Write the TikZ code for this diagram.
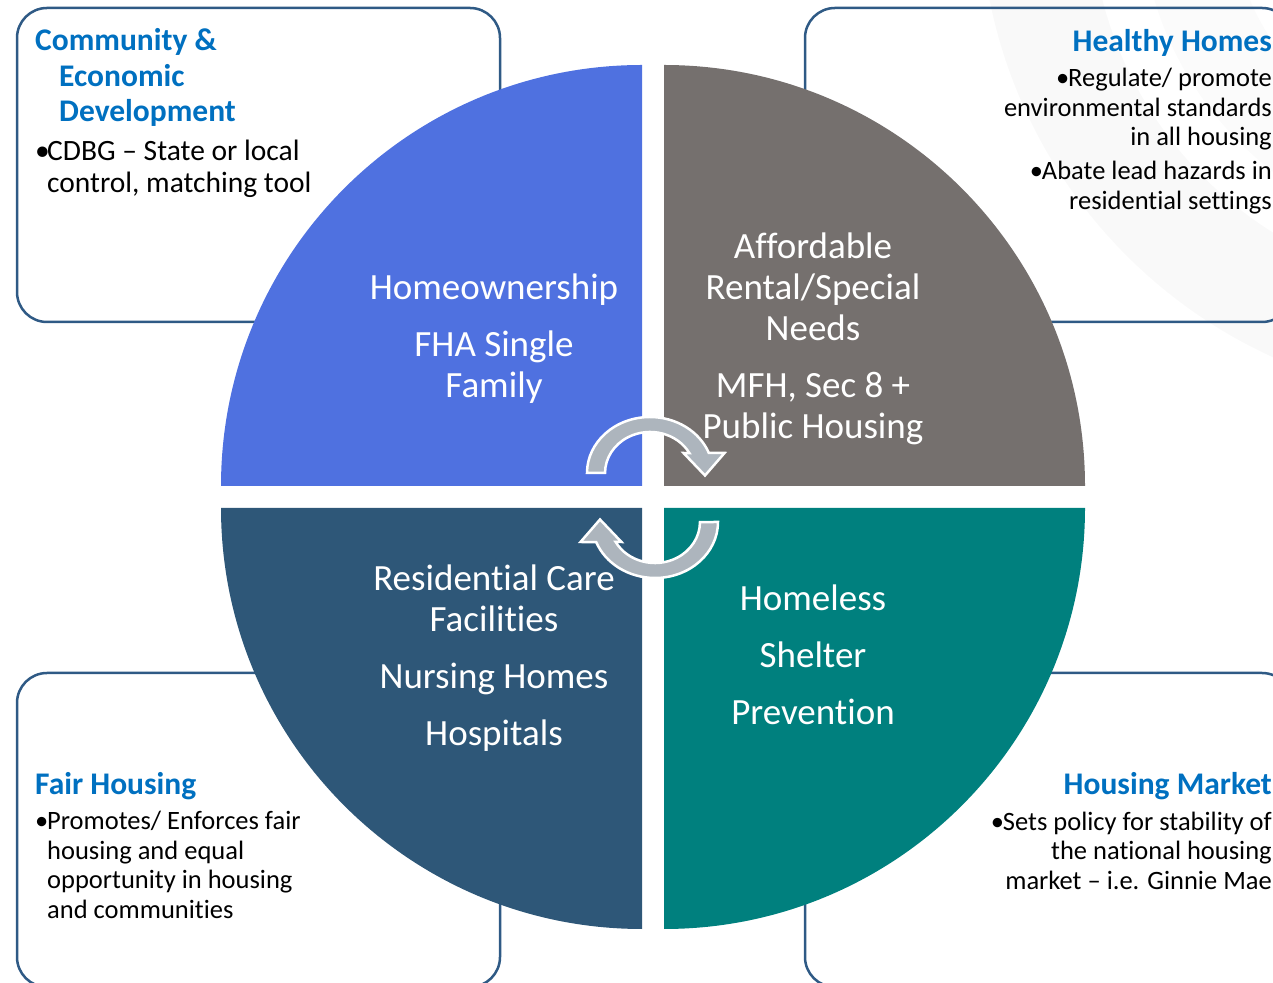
\documentclass[tikz,border=0pt]{standalone}
\usepackage{fontspec}
\setmainfont{Carlito}[Ligatures={TeX,NoCommon}]
\usepackage{tikz}
\usetikzlibrary{positioning,calc}
\usepackage{xcolor}
\definecolor{homeBlue}{HTML}{4F71E0}
\definecolor{rentGray}{HTML}{75706E}
\definecolor{careNavy}{HTML}{2E5778}
\definecolor{shelterTeal}{HTML}{00807E}
\definecolor{titleBlue}{HTML}{0070C0}
\definecolor{frameBlue}{HTML}{2F5A85}
\definecolor{turnGray}{HTML}{ADB5BD}
% fixed-width bullet so wrapped lines line up under the text
\newcommand{\bul}{\makebox[12pt][l]{\textbullet}}

\begin{document}
\begin{tikzpicture}[
          x=1pt, y=1pt,
          frame/.style={draw=frameBlue,line width=2.5pt,rounded corners=30pt},
          slice/.style={align=center,text=white,inner sep=0pt,
                        font=\fontsize{37}{41}\selectfont},
          head/.style={text=titleBlue,inner sep=0pt,
                       font=\fontsize{31.5}{35.5}\selectfont\bfseries},
          note/.style={inner sep=0pt,font=\fontsize{26.5}{29.5}\selectfont},
          turn/.pic={
            \path[fill=turnGray,draw=white,line width=2.5pt,line join=miter]
              (-65.5,24.5) arc[start angle=180,end angle=21,x radius=63,y radius=56]
              -- (72,44.5) -- (52.5,22) -- (31,44.5) -- (36.9,44.4)
              arc[start angle=29,end angle=180,x radius=45,y radius=41] -- cycle;
          }]
  \useasboundingbox (0,0) rectangle (1273,982);

  % faint sweeps behind the upper right panel
  \fill[black!2.5,even odd rule] (1480,1080) circle[radius=500] (1480,1080) circle[radius=390];
  \fill[black!1.5,even odd rule] (1480,1080) circle[radius=340] (1480,1080) circle[radius=250];

  % corner panels
  \draw[frame] (17,660) rectangle (500,974);
  \draw[frame] (805,660) rectangle (1292,974);
  \draw[frame] (17,-5) rectangle (500,309);
  \draw[frame] (805,-5) rectangle (1292,309);

  % four quarters, pulled apart around the hub
  \coordinate (hub) at (652.5,484.5);
  \fill[homeBlue] (642,496) -- ++(-421,0) arc[start angle=180,end angle=90,radius=421] -- cycle;
  \fill[rentGray] (664,496) -- ++(0,421) arc[start angle=90,end angle=0,radius=421] -- cycle;
  \fill[careNavy] (642,474) -- ++(-421,0) arc[start angle=180,end angle=270,radius=421] -- cycle;
  \fill[shelterTeal] (664,474) -- ++(421,0) arc[start angle=0,end angle=-90,radius=421] -- cycle;

  \node[slice] (own) at (494,643) {Homeownership\\[16pt]FHA Single\\Family};
  \node[slice] (rent) at (813,643) {Affordable\\Rental/Special\\Needs\\[16pt]MFH, Sec 8 +\\Public Housing};
  \node[slice] (care) at (494,323.5) {Residential Care\\Facilities\\[16pt]Nursing Homes\\[16pt]Hospitals};
  \node[slice] (shelter) at (813,327) {Homeless\\[16pt]Shelter\\[16pt]Prevention};

  % cycle arrows
  \pic (turnA) at (hub) {turn};
  \pic[rotate=180] (turnB) at (hub) {turn};

  % panel texts (base = last line)
  \node[head,anchor=base west,align=left] (cedT) at (35,860.3)
    {Community \&\\\hspace*{24pt}Economic\\\hspace*{24pt}Development};
  \node[note,anchor=base west,align=left,font=\fontsize{29.5}{32.5}\selectfont] (cedB) at (35,789.3)
    {\bul CDBG -- State or local\\\hspace*{12pt}control, matching tool};

  \node[head,anchor=base east] (hhT) at (1272,930) {Healthy Homes};
  \node[note,anchor=base east,align=right] (hhB) at (1272,772.7)
    {\bul Regulate/ promote\\environmental standards\\in all housing\\[4.5pt]\bul Abate lead hazards in\\residential settings};

  \node[head,anchor=base west] (fhT) at (35,187) {Fair Housing};
  \node[note,anchor=base west,align=left] (fhB) at (35,63.7)
    {\bul Promotes/ Enforces fair\\\hspace*{12pt}housing and equal\\\hspace*{12pt}opportunity in housing\\\hspace*{12pt}and communities};

  \node[head,anchor=base east] (hmT) at (1272,187) {Housing Market};
  \node[note,anchor=base east,align=right] (hmB) at (1272,92.7)
    {\bul Sets policy for stability of\\the national housing\\market -- i.e. Ginnie Mae};
\end{tikzpicture}
\end{document}
